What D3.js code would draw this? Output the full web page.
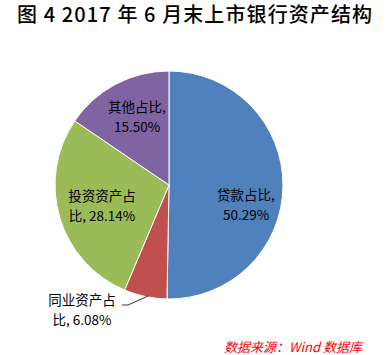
<!DOCTYPE html>
<html><head><meta charset="utf-8">
<script src="https://cdn.jsdelivr.net/npm/d3@7"></script>
<style>body{margin:0;background:#fff}</style>
</head><body>
<svg id="c" width="387" height="355"></svg>
<script>
const categories = ["贷款占比", "同业资产占比", "投资资产占比", "其他占比"];
const values = [50.29, 6.08, 28.14, 15.50];
const colors = ["#4F81BD", "#C0504D", "#9BBB59", "#8064A2"];
const labelLines = [["贷款占比,", "50.29%"], ["同业资产占", "比, 6.08%"], ["投资资产占", "比, 28.14%"], ["其他占比,", "15.50%"]];

const svg = d3.select("#c");
const font = "'Noto Sans CJK SC', 'Noto Sans', sans-serif";
svg.append("text").attr("x", 17).attr("y", 22)
  .attr("font-family", font).attr("font-size", 20).attr("font-weight", "500").attr("fill", "#000")
  .attr("textLength", 355).attr("lengthAdjust", "spacing")
  .text("图 4  2017 年 6 月末上市银行资产结构");

const cx = 169, cy = 185, r = 114;
const pie = d3.pie().sort(null).value(d => d)(values);
const arc = d3.arc().innerRadius(0).outerRadius(r);
const g = svg.append("g").attr("transform", `translate(${cx},${cy})`);
g.selectAll("path").data(pie).join("path").attr("d", arc)
  .attr("fill", (d, i) => colors[i]).attr("stroke", "#fff").attr("stroke-width", 1);

const labelPos = [[246, 195], [82, 300], [102, 196], [137, 107]];
labelLines.forEach((ls, i) => {
  const t = svg.append("text").attr("font-family", font).attr("font-size", 13.5).attr("fill", "#000")
    .attr("text-anchor", "middle");
  ls.forEach((s, j) => t.append("tspan").attr("x", labelPos[i][0]).attr("y", labelPos[i][1] + j * 20 + 5).text(s));
});
svg.append("polyline").attr("points", "122,305 128,305 148,296").attr("fill", "none").attr("stroke", "#000").attr("stroke-width", 0.8);

svg.append("text").attr("x", 362).attr("y", 352).attr("text-anchor", "end")
  .attr("font-family", font).attr("font-size", 13).attr("font-style", "italic").attr("fill", "#FF0000")
  .text("数据来源：Wind 数据库");
</script>
</body></html>
